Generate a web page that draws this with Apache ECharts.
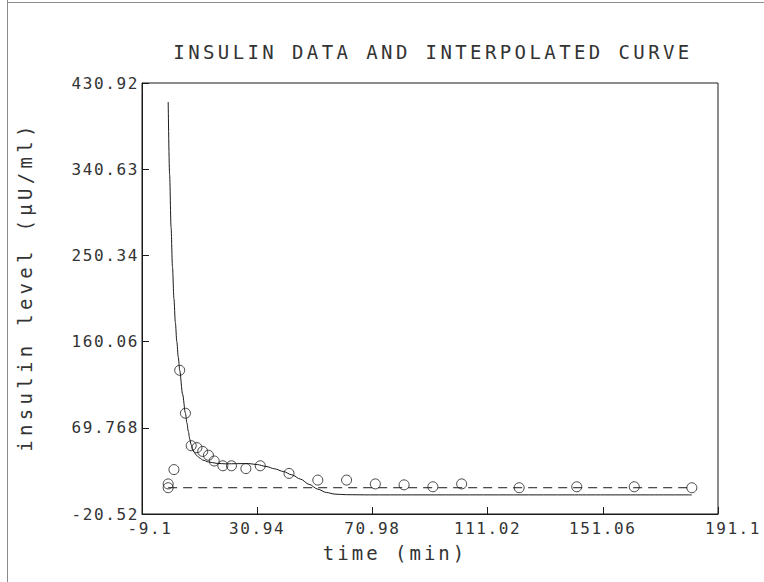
<!DOCTYPE html>
<html>
<head>
<meta charset="utf-8">
<script src="https://cdn.jsdelivr.net/npm/echarts@6/dist/echarts.min.js"></script>
<style>
html, body { margin: 0; padding: 0; background: #ffffff; }
#chart { width: 764px; height: 582px; }
#chart svg text { letter-spacing: 0.1em; }
#chart svg text[style*="monotitle"] { letter-spacing: 3.4px; }
#chart svg text[style*="monoxname"] { letter-spacing: 3.0px; }
#chart svg text[style*="monoyname"] { letter-spacing: 4.3px; }
</style>
</head>
<body>
<div id="chart"></div>
<script>
// ---- data ----
const titleText = 'INSULIN DATA AND INTERPOLATED CURVE';
const xAxisName = 'time (min)';
const yAxisName = 'insulin level (\u03bcU/ml)';

const xTickValues = [-9.1, 30.94, 70.98, 111.02, 151.06, 191.1];
const xTickLabels = ['-9.1', '30.94', '70.98', '111.02', '151.06', '191.1'];
const yTickValues = [-20.52, 69.768, 160.06, 250.34, 340.63, 430.92];
const yTickLabels = ['-20.52', '69.768', '160.06', '250.34', '340.63', '430.92'];

// measured insulin samples (circles)
const sampleTime    = [0, 0, 2, 4, 6, 8, 10, 12, 14, 16, 19, 22, 27, 32, 42, 52, 62, 72, 82, 92, 102, 122, 142, 162, 182];
const sampleInsulin = [11, 7, 26, 130, 85, 51, 49, 45, 41, 35, 30, 30, 27, 30, 22, 15, 15, 11, 10, 8, 11, 7, 8, 8, 7];

// interpolated curve (solid line)
const curveTime    = [0, 0.5, 1, 1.5, 2, 2.5, 3, 3.5, 4, 5, 6, 6.5, 7, 7.5, 8, 8.5, 9, 10, 11, 12, 14, 17, 20, 24, 28, 31, 34, 37, 40, 43, 46, 49, 52, 55, 58, 62, 70, 100, 140, 182];
const curveInsulin = [411, 335, 280, 238, 205, 180, 160, 144, 130, 105, 85, 75, 66, 58, 52, 47.5, 44, 40.5, 38, 36, 34, 32.5, 32, 32.2, 32.3, 31.2, 29.3, 26.8, 24, 20.5, 16, 10.5, 5.5, 2, 0.3, -0.3, -0.5, -0.5, -0.5, -0.5];

// basal level (dashed line)
const basalTime    = [0, 182];
const basalInsulin = [7, 7];

// ---- build chart ----
const pairs = (xs, ys) => xs.map((x, i) => [x, ys[i]]);
const labelFor = (values, labels, v) => {
  let best = 0;
  for (let i = 1; i < values.length; i++) {
    if (Math.abs(values[i] - v) < Math.abs(values[best] - v)) best = i;
  }
  return { idx: best, text: labels[best] };
};

const FONT = "'DejaVu Sans Mono', monospace";
const INK = '#1a1a1a';
const TEXT = '#333333';

const chart = echarts.init(document.getElementById('chart'), null, { renderer: 'svg' });

chart.setOption({
  backgroundColor: '#ffffff',
  animation: false,
  title: {
    text: titleText,
    left: 428,
    top: 37,
    textAlign: 'center',
    textStyle: { fontFamily: "'DejaVu Sans Mono', monotitle, monospace", fontSize: 19, fontWeight: 'normal', color: TEXT }
  },
  graphic: [
    { type: 'line', shape: { x1: 7.5, y1: 0, x2: 7.5, y2: 582 }, style: { stroke: '#8c8c8c', lineWidth: 1 }, silent: true },
    { type: 'line', shape: { x1: 7.5, y1: 2.5, x2: 764, y2: 2.5 }, style: { stroke: '#8c8c8c', lineWidth: 1 }, silent: true }
  ],
  grid: {
    left: 142, top: 83, width: 576, height: 431,
    show: true, borderColor: INK, borderWidth: 1, backgroundColor: 'transparent'
  },
  xAxis: {
    type: 'value',
    min: xTickValues[0],
    max: xTickValues[xTickValues.length - 1],
    name: xAxisName,
    nameLocation: 'middle',
    nameGap: 29,
    nameTextStyle: { fontFamily: "'DejaVu Sans Mono', monoxname, monospace", fontSize: 19, color: TEXT, padding: [0, 70, 0, 0] },
    axisLine: { show: true, onZero: false, lineStyle: { color: INK, width: 1 } },
    axisTick: { show: true, inside: true, length: 7, lineStyle: { color: INK }, customValues: xTickValues },
    axisLabel: {
      show: true,
      customValues: xTickValues,
      margin: 6,
      fontFamily: FONT, fontSize: 16, color: TEXT,
      formatter: (v) => {
        const r = labelFor(xTickValues, xTickLabels, v);
        if (r.idx === 0) return '{first|' + r.text + '}';
        if (r.idx === xTickValues.length - 1) return '{last|' + r.text + '}';
        return r.text;
      },
      rich: {
        first: { fontFamily: FONT, fontSize: 16, color: TEXT, padding: [0, 0, 0, 16] },
        last: { fontFamily: FONT, fontSize: 16, color: TEXT, padding: [0, 0, 0, 30] }
      }
    },
    splitLine: { show: false }
  },
  yAxis: {
    type: 'value',
    min: yTickValues[0],
    max: yTickValues[yTickValues.length - 1],
    name: yAxisName,
    nameLocation: 'middle',
    nameGap: 108,
    nameRotate: 90,
    nameTextStyle: { fontFamily: "'DejaVu Sans Mono', monoyname, monospace", fontSize: 19, color: TEXT, padding: [0, 0, 0, 24] },
    axisLine: { show: true, onZero: false, lineStyle: { color: INK, width: 1 } },
    axisTick: { show: true, inside: true, length: 7, lineStyle: { color: INK }, customValues: yTickValues },
    axisLabel: {
      show: true,
      customValues: yTickValues,
      margin: 3,
      fontFamily: FONT, fontSize: 16, color: TEXT,
      formatter: (v) => labelFor(yTickValues, yTickLabels, v).text
    },
    splitLine: { show: false }
  },
  series: [
    {
      name: 'basal',
      type: 'line',
      data: pairs(basalTime, basalInsulin),
      symbol: 'none',
      lineStyle: { color: INK, width: 1, type: [9, 6] },
      z: 2
    },
    {
      name: 'curve',
      type: 'line',
      data: pairs(curveTime, curveInsulin),
      symbol: 'none',
      smooth: 0.3,
      smoothMonotone: 'x',
      lineStyle: { color: INK, width: 1 },
      z: 3
    },
    {
      name: 'samples',
      type: 'scatter',
      data: pairs(sampleTime, sampleInsulin),
      symbol: 'circle',
      symbolSize: 10,
      itemStyle: { color: 'rgba(0,0,0,0)', borderColor: INK, borderWidth: 1 },
      z: 4
    }
  ]
});
</script>
</body>
</html>
